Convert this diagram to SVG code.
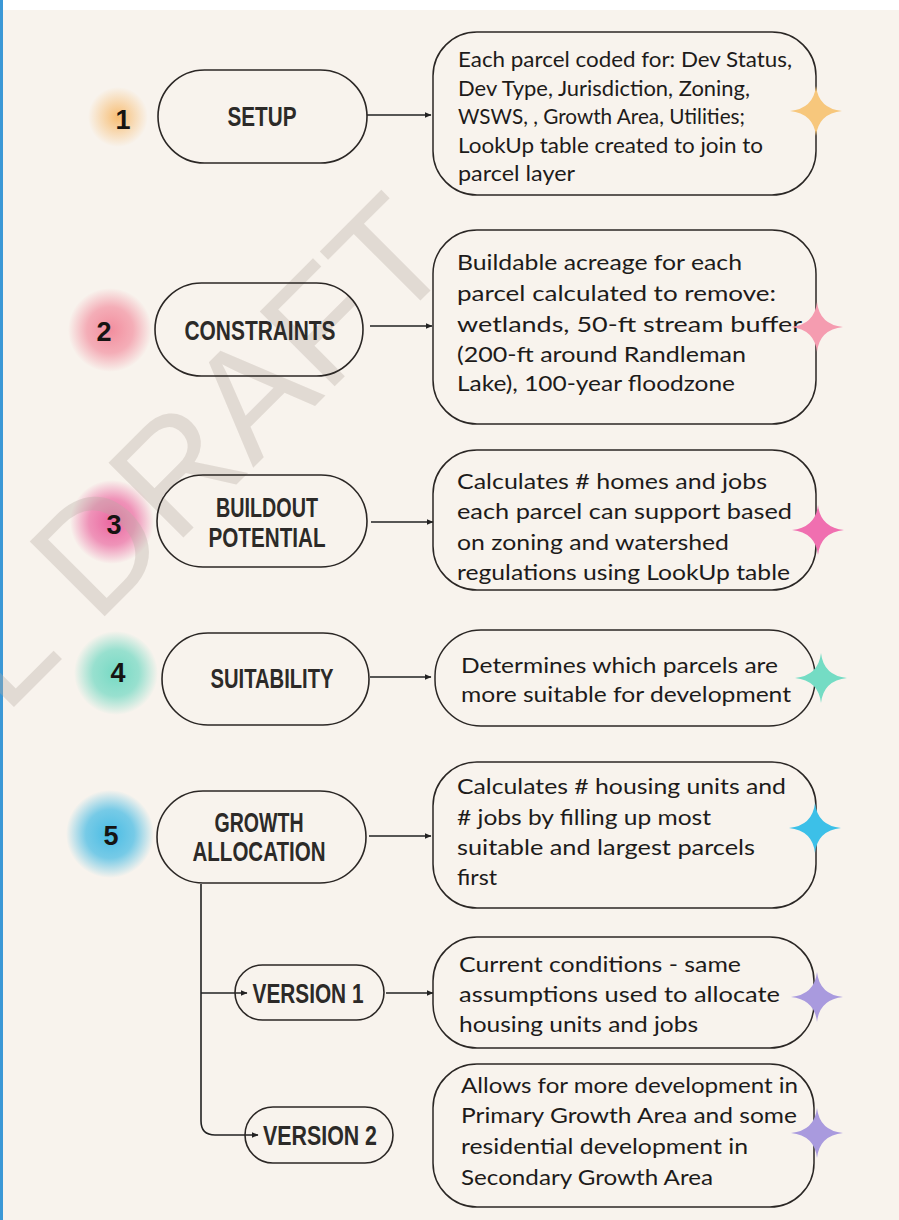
<svg xmlns="http://www.w3.org/2000/svg" width="899" height="1220" viewBox="0 0 899 1220">
<defs>
<style>
.bg{fill:#f8f3ed}
.pill{fill:none;stroke:#2b2725;stroke-width:1.6}
.box{fill:none;stroke:#2b2725;stroke-width:1.5}
.lbl{font-family:"Liberation Sans",Arial,sans-serif;font-weight:bold;font-size:27px;fill:#2c2a28;text-anchor:middle}
.num{font-family:"Liberation Sans",Arial,sans-serif;font-weight:bold;font-size:27px;fill:#161412;text-anchor:middle}
.body{font-family:"Lato","Noto Sans",sans-serif;font-size:21px;fill:#1d1b1a}
.conn{fill:none;stroke:#222;stroke-width:1.6}
.wm{font-family:"Liberation Sans",Arial,sans-serif;font-size:154px;fill:#b8aca2;fill-opacity:0.35}
</style>
<marker id="ah" markerUnits="userSpaceOnUse" markerWidth="7" markerHeight="6" refX="6.5" refY="3" orient="auto">
<path d="M0,0 L7,3 L0,6 z" fill="#222"/>
</marker>
<radialGradient id="g1"><stop offset="0" stop-color="#f7b45e" stop-opacity="0.85"/><stop offset="1" stop-color="#f7b45e" stop-opacity="0"/></radialGradient>
<radialGradient id="g2"><stop offset="0" stop-color="#f2889a" stop-opacity="0.95"/><stop offset="0.55" stop-color="#f2889a" stop-opacity="0.65"/><stop offset="1" stop-color="#f2889a" stop-opacity="0"/></radialGradient>
<radialGradient id="g3"><stop offset="0" stop-color="#ea5f9c" stop-opacity="0.95"/><stop offset="0.55" stop-color="#ea5f9c" stop-opacity="0.65"/><stop offset="1" stop-color="#ea5f9c" stop-opacity="0"/></radialGradient>
<radialGradient id="g4"><stop offset="0" stop-color="#6fd8c2" stop-opacity="0.95"/><stop offset="0.55" stop-color="#6fd8c2" stop-opacity="0.7"/><stop offset="1" stop-color="#6fd8c2" stop-opacity="0"/></radialGradient>
<radialGradient id="g5"><stop offset="0" stop-color="#3fb9e4" stop-opacity="0.95"/><stop offset="0.55" stop-color="#3fb9e4" stop-opacity="0.7"/><stop offset="1" stop-color="#3fb9e4" stop-opacity="0"/></radialGradient>
<path id="star" d="M0,-25 Q2.5,-2.5 26,0 Q2.5,2.5 0,25 Q-2.5,2.5 -26,0 Q-2.5,-2.5 0,-25 Z"/>
</defs>

<rect class="bg" x="0" y="0" width="899" height="1220"/>
<rect x="0" y="0" width="899" height="10" fill="#ffffff"/>
<rect x="0" y="0" width="3" height="1220" fill="#3b98d6"/>

<g id="glows">
<circle cx="118" cy="117" r="30" fill="url(#g1)"/>
<circle cx="110" cy="330" r="42" fill="url(#g2)"/>
<circle cx="112" cy="522" r="42" fill="url(#g3)"/>
<circle cx="116" cy="673" r="42" fill="url(#g4)"/>
<circle cx="110" cy="834" r="44" fill="url(#g5)"/>
</g>

<g id="watermark">
<text class="wm" transform="translate(5,716) rotate(-45)" x="0" y="0">L</text>
<text class="wm" transform="translate(95.8,625.2) rotate(-45)" x="0" y="0">DRAFT</text>
</g>

<g id="connectors">
<path class="conn" d="M367,115 H431" marker-end="url(#ah)"/>
<path class="conn" d="M370,326 H432" marker-end="url(#ah)"/>
<path class="conn" d="M371,522 H433" marker-end="url(#ah)"/>
<path class="conn" d="M370,677 H431" marker-end="url(#ah)"/>
<path class="conn" d="M369,836 H431" marker-end="url(#ah)"/>
<path class="conn" d="M201,884 V1121 Q201,1135 215,1135 H258" marker-end="url(#ah)"/>
<path class="conn" d="M201,993 H247" marker-end="url(#ah)"/>
<path class="conn" d="M386,993 H433" marker-end="url(#ah)"/>
</g>

<g id="step1">
<text class="num" x="123" y="129">1</text>
<rect class="pill" x="158" y="70" width="209" height="93" rx="46.5"/>
<text class="lbl" x="262" y="126" textLength="69" lengthAdjust="spacingAndGlyphs">SETUP</text>
</g>
<g id="desc1">
<rect class="box" x="433" y="32" width="383" height="163" rx="44"/>
<text class="body" x="458" y="67" textLength="334" lengthAdjust="spacingAndGlyphs">Each parcel coded for: Dev Status,</text>
<text class="body" x="458" y="95.5" textLength="292" lengthAdjust="spacingAndGlyphs">Dev Type, Jurisdiction, Zoning,</text>
<text class="body" x="458" y="124" textLength="287" lengthAdjust="spacingAndGlyphs">WSWS, , Growth Area, Utilities;</text>
<text class="body" x="458" y="152.5" textLength="305" lengthAdjust="spacingAndGlyphs">LookUp table created to join to</text>
<text class="body" x="458" y="181" textLength="117" lengthAdjust="spacingAndGlyphs">parcel layer</text>
<use href="#star" x="816" y="111" fill="#f7c77c"/>
</g>

<g id="step2">
<text class="num" x="104" y="341">2</text>
<rect class="pill" x="155" y="283" width="208" height="93" rx="46.5"/>
<text class="lbl" x="260" y="340" textLength="151" lengthAdjust="spacingAndGlyphs">CONSTRAINTS</text>
</g>
<g id="desc2">
<rect class="box" x="433" y="230" width="383" height="194" rx="44"/>
<text class="body" x="457" y="270" textLength="285" lengthAdjust="spacingAndGlyphs">Buildable acreage for each</text>
<text class="body" x="457" y="301" textLength="319" lengthAdjust="spacingAndGlyphs">parcel calculated to remove:</text>
<text class="body" x="457" y="332" textLength="345" lengthAdjust="spacingAndGlyphs">wetlands, 50-ft stream buffer</text>
<text class="body" x="457" y="362" textLength="289" lengthAdjust="spacingAndGlyphs">(200-ft around Randleman</text>
<text class="body" x="457" y="391" textLength="278" lengthAdjust="spacingAndGlyphs">Lake), 100-year floodzone</text>
<use href="#star" x="817" y="327" fill="#f59cb0"/>
</g>

<g id="step3">
<text class="num" x="114" y="534">3</text>
<rect class="pill" x="157" y="475" width="210" height="92" rx="46"/>
<text class="lbl" x="267" y="517" textLength="102" lengthAdjust="spacingAndGlyphs">BUILDOUT</text>
<text class="lbl" x="267" y="547" textLength="117" lengthAdjust="spacingAndGlyphs">POTENTIAL</text>
</g>
<g id="desc3">
<rect class="box" x="433" y="450" width="383" height="140" rx="44"/>
<text class="body" x="457" y="489" textLength="310" lengthAdjust="spacingAndGlyphs">Calculates # homes and jobs</text>
<text class="body" x="457" y="519" textLength="335" lengthAdjust="spacingAndGlyphs">each parcel can support based</text>
<text class="body" x="457" y="550" textLength="272" lengthAdjust="spacingAndGlyphs">on zoning and watershed</text>
<text class="body" x="457" y="580" textLength="333" lengthAdjust="spacingAndGlyphs">regulations using LookUp table</text>
<use href="#star" x="818" y="530" fill="#f06fb0"/>
</g>

<g id="step4">
<text class="num" x="118" y="682">4</text>
<rect class="pill" x="162" y="633" width="207" height="92" rx="46"/>
<text class="lbl" x="272" y="688" textLength="123" lengthAdjust="spacingAndGlyphs">SUITABILITY</text>
</g>
<g id="desc4">
<rect class="box" x="435" y="630" width="380" height="96" rx="46"/>
<text class="body" x="461" y="673" textLength="317" lengthAdjust="spacingAndGlyphs">Determines which parcels are</text>
<text class="body" x="461" y="702" textLength="330" lengthAdjust="spacingAndGlyphs">more suitable for development</text>
<use href="#star" x="821" y="678" fill="#74dcc4"/>
</g>

<g id="step5">
<text class="num" x="111" y="845">5</text>
<rect class="pill" x="157" y="791" width="209" height="92" rx="46"/>
<text class="lbl" x="259" y="832" textLength="89" lengthAdjust="spacingAndGlyphs">GROWTH</text>
<text class="lbl" x="259" y="861" textLength="133" lengthAdjust="spacingAndGlyphs">ALLOCATION</text>
</g>
<g id="desc5">
<rect class="box" x="433" y="762" width="383" height="146" rx="44"/>
<text class="body" x="457" y="794" textLength="329" lengthAdjust="spacingAndGlyphs">Calculates # housing units and</text>
<text class="body" x="457" y="825" textLength="254" lengthAdjust="spacingAndGlyphs"># jobs by filling up most</text>
<text class="body" x="457" y="855" textLength="298" lengthAdjust="spacingAndGlyphs">suitable and largest parcels</text>
<text class="body" x="457" y="885" textLength="40" lengthAdjust="spacingAndGlyphs">first</text>
<use href="#star" x="815" y="828" fill="#3cc0e8"/>
</g>

<g id="version1">
<rect class="pill" x="235" y="965" width="149" height="55" rx="27.5"/>
<text class="lbl" x="308" y="1003" textLength="111" lengthAdjust="spacingAndGlyphs">VERSION 1</text>
</g>
<g id="desc6">
<rect class="box" x="433" y="937" width="381" height="111" rx="44"/>
<text class="body" x="459" y="972" textLength="282" lengthAdjust="spacingAndGlyphs">Current conditions - same</text>
<text class="body" x="459" y="1002" textLength="321" lengthAdjust="spacingAndGlyphs">assumptions  used to allocate</text>
<text class="body" x="459" y="1032" textLength="239" lengthAdjust="spacingAndGlyphs">housing units and jobs</text>
<use href="#star" x="817" y="997" fill="#a99ade"/>
</g>

<g id="version2">
<rect class="pill" x="245" y="1107" width="148" height="56" rx="28"/>
<text class="lbl" x="320" y="1145" textLength="114" lengthAdjust="spacingAndGlyphs">VERSION 2</text>
</g>
<g id="desc7">
<rect class="box" x="433" y="1064" width="381" height="143" rx="44"/>
<text class="body" x="461" y="1093" textLength="337" lengthAdjust="spacingAndGlyphs">Allows for more development in</text>
<text class="body" x="461" y="1123" textLength="336" lengthAdjust="spacingAndGlyphs">Primary Growth Area and some</text>
<text class="body" x="461" y="1154" textLength="287" lengthAdjust="spacingAndGlyphs">residential development in</text>
<text class="body" x="461" y="1185" textLength="252" lengthAdjust="spacingAndGlyphs">Secondary Growth Area</text>
<use href="#star" x="817" y="1133" fill="#a99ade"/>
</g>
</svg>
